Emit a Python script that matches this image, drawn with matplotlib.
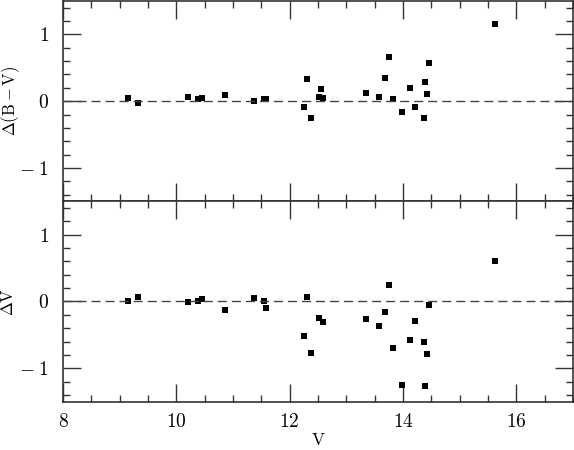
from matplotlib import pyplot as plt
from matplotlib import ticker

# top panel: Delta(B-V) vs V
v_bv = [9.14, 9.32, 10.21, 10.39, 10.46, 10.86, 11.37, 11.54, 11.58, 12.26,
        12.30, 12.38, 12.52, 12.55, 12.59, 13.34, 13.58, 13.69, 13.75, 13.83,
        13.98, 14.12, 14.22, 14.37, 14.38, 14.42, 14.46, 15.62]
d_bv = [0.045, -0.035, 0.055, 0.03, 0.045, 0.085, 0.0, 0.025, 0.025, -0.095,
        0.325, -0.255, 0.06, 0.175, 0.045, 0.125, 0.055, 0.34, 0.655, 0.035,
        -0.165, 0.195, -0.095, -0.245, 0.285, 0.105, 0.575, 1.16]

# bottom panel: Delta V vs V
v_v = [9.14, 9.32, 10.21, 10.39, 10.46, 10.86, 11.37, 11.54, 11.58, 12.26,
       12.30, 12.38, 12.52, 12.59, 13.34, 13.58, 13.69, 13.75, 13.83, 13.98,
       14.12, 14.22, 14.37, 14.38, 14.42, 14.46, 15.62]
d_v = [0.01, 0.065, -0.01, 0.0, 0.03, -0.12, 0.045, 0.0, -0.10, -0.51,
       0.065, -0.77, -0.25, -0.30, -0.26, -0.36, -0.16, 0.24, -0.69, -1.25,
       -0.58, -0.29, -0.61, -1.26, -0.79, -0.05, 0.61]

plt.rcParams['font.family'] = ['DejaVu Serif']
plt.rcParams['mathtext.fontset'] = 'cm'
frame = '#333333'

fig = plt.figure(figsize=(5.74, 4.5), dpi=100)
W, H = 574, 450
ax1 = fig.add_axes([63 / W, 1 - 201.3 / H, 510 / W, 200.3 / H])
ax2 = fig.add_axes([63 / W, 1 - 401.7 / H, 510 / W, 200.4 / H], sharex=ax1)

def fmt(v, p):
	n = int(round(v))
	if n < 0:
		return r'$-\;%d$' % (-n)
	return r'$%d$' % n

panels = [(ax1, v_bv, d_bv, r'$\Delta(\mathrm{B}-\mathrm{V})$', 22),
          (ax2, v_v, d_v, r'$\Delta\mathrm{V}$', 17)]
for ax, x, y, lab, lx in panels:
	ax.plot(x, y, 's', color='black', markersize=3.8, markeredgewidth=0)
	ax.axhline(0, color='#444444', linewidth=1.0, dashes=(6.5, 3.6))
	ax.set_xlim(8, 17)
	ax.set_ylim(-1.5, 1.5)
	ax.xaxis.set_major_locator(ticker.MultipleLocator(2))
	ax.xaxis.set_minor_locator(ticker.MultipleLocator(0.5))
	ax.yaxis.set_major_locator(ticker.MultipleLocator(1))
	ax.yaxis.set_minor_locator(ticker.MultipleLocator(0.2))
	ax.tick_params(which='both', direction='in', top=True, right=True,
		colors=frame, labelcolor='black', labelsize=14)
	ax.tick_params(which='major', length=13, width=1)
	ax.tick_params(which='minor', length=5, width=1)
	ax.tick_params(axis='y', pad=10)
	for s in ax.spines.values():
		s.set_color(frame)
		s.set_linewidth(1.2)
	ax.set_ylabel(lab, fontsize=12)
	ax.yaxis.set_label_coords((lx - 63) / 510, 0.5)
	ax.xaxis.set_major_formatter(ticker.FuncFormatter(fmt))
	ax.yaxis.set_major_formatter(ticker.FuncFormatter(fmt))

ax1.tick_params(axis='x', labelbottom=False)
ax2.tick_params(axis='x', pad=8)
ax2.set_xlabel(r'$\mathrm{V}$', fontsize=12.5, labelpad=1)

fig.savefig('out.png', dpi=100)
